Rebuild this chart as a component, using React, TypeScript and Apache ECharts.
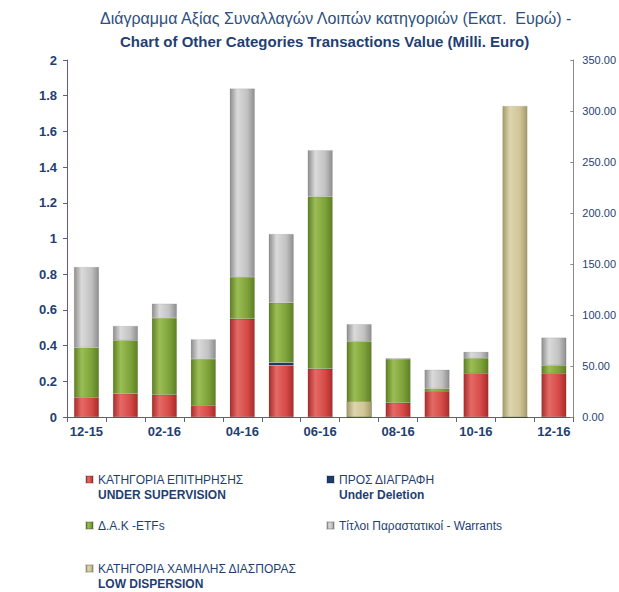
import React, { useEffect, useRef } from "react";
import * as echarts from "echarts";

const categories = ["12-15", "01-16", "02-16", "03-16", "04-16", "05-16", "06-16", "07-16", "08-16", "09-16", "10-16", "11-16", "12-16"];
const underSupervision = [0.11, 0.13, 0.125, 0.065, 0.55, 0.29, 0.27, 0, 0.08, 0.145, 0.245, 0, 0.245];
const underDeletion = [0, 0, 0, 0, 0, 0.015, 0, 0, 0, 0, 0, 0, 0];
const etfs = [0.28, 0.3, 0.43, 0.26, 0.235, 0.335, 0.965, 0.425, 0.245, 0.015, 0.085, 0, 0.045];
const warrants = [0.45, 0.08, 0.08, 0.11, 1.055, 0.385, 0.26, 0.095, 0.005, 0.105, 0.035, 0, 0.155];
const lowDispersion = [0, 0, 0, 0, 0, 0, 0, 15.5, 0, 0, 0, 305, 0];

const leftTicks = { min: 0, max: 2, interval: 0.2 };
const rightTicks = { min: 0, max: 350, interval: 50 };

const NAMES = {
  sup: "ΚΑΤΗΓΟΡΙΑ ΕΠΙΤΗΡΗΣΗΣ\nUNDER SUPERVISION",
  del: "ΠΡΟΣ ΔΙΑΓΡΑΦΗ\nUnder Deletion",
  etf: "Δ.Α.Κ -ETFs",
  war: "Τίτλοι Παραστατικοί - Warrants",
  low: "ΚΑΤΗΓΟΡΙΑ ΧΑΜΗΛΗΣ ΔΙΑΣΠΟΡΑΣ\nLOW DISPERSION",
};

const FONT = "'Liberation Sans Narrow', 'Arial Narrow', 'Liberation Sans', sans-serif";
const NAVY = "#1f3f73";

function grad(edge: string, mid: string, hi: string) {
  return new echarts.graphic.LinearGradient(0, 0, 1, 0, [
    { offset: 0, color: edge },
    { offset: 0.3, color: hi },
    { offset: 0.7, color: mid },
    { offset: 1, color: edge },
  ]);
}

export default function App() {
  const ref = useRef<HTMLDivElement>(null);
  useEffect(() => {
    if (!ref.current) return;
    const chart = echarts.init(ref.current, null, { renderer: "svg" });
    const bar = (name: string, data: number[], color: any, legendColor: string, axis = 0, stack: string | undefined = "a") => ({
      name,
      type: "bar",
      stack,
      yAxisIndex: axis,
      data,
      barWidth: 25,
      barGap: "-100%",
      itemStyle: { color, borderColor: "rgba(0,0,0,0.15)", borderWidth: 0.5 },
      color: legendColor,
    });
    const legendBase = {
      orient: "vertical",
      padding: 0,
      itemWidth: 7,
      itemHeight: 7,
      itemGap: 0,
      icon: "rect",
      selectedMode: false,
      textStyle: { fontFamily: FONT, fontSize: 12, color: NAVY, lineHeight: 15 },
    };
    const twoLine = {
      ...legendBase,
      formatter: (n: string) => {
        const p = n.split("\n");
        return `{a|${p[0]}}\n{b|${p[1]}}`;
      },
      textStyle: {
        ...legendBase.textStyle,
        padding: [15, 0, 0, 0],
        rich: {
          a: { fontFamily: FONT, fontSize: 12, color: NAVY, lineHeight: 15 },
          b: { fontFamily: FONT, fontSize: 12, color: NAVY, lineHeight: 15, fontWeight: "bold" },
        },
      },
    };
    chart.setOption({
      animation: false,
      backgroundColor: "#ffffff",
      title: [
        { text: "Διάγραμμα Αξίας Συναλλαγών Λοιπών κατηγοριών (Εκατ.  Ευρώ) -", left: 100, top: 10, padding: 0, textStyle: { fontFamily: FONT, fontSize: 16, fontWeight: "normal", color: "#2d4f80" } },
        { text: "Chart of Other Categories Transactions Value (Milli. Euro)", left: 120, top: 34, padding: 0, textStyle: { fontFamily: FONT, fontSize: 15, fontWeight: "bold", color: NAVY } },
      ],
      legend: [
        { ...twoLine, data: [NAMES.sup], left: 85, top: 457 },
        { ...twoLine, data: [NAMES.del], left: 326, top: 457 },
        { ...legendBase, data: [NAMES.etf], left: 85, top: 518 },
        { ...legendBase, data: [NAMES.war], left: 326, top: 518 },
        { ...twoLine, data: [NAMES.low], left: 85, top: 546 },
      ],
      grid: { left: 67, right: 41, top: 60, bottom: 175, containLabel: false },
      xAxis: {
        type: "category",
        data: categories,
        axisLine: { lineStyle: { color: "#5d5d94", width: 1 } },
        axisTick: { show: true, interval: 0, length: 5, lineStyle: { color: "#5d5d94" } },
        axisLabel: { interval: 1, fontFamily: FONT, fontSize: 13, fontWeight: "bold", color: NAVY, margin: 8 },
      },
      yAxis: [
        {
          type: "value",
          ...leftTicks,
          splitLine: { show: false },
          axisLine: { show: true, lineStyle: { color: "#5d5d94" } },
          axisTick: { show: true, length: 4, lineStyle: { color: "#5d5d94" } },
          axisLabel: { fontFamily: FONT, fontSize: 13, fontWeight: "bold", color: NAVY, margin: 10 },
        },
        {
          type: "value",
          position: "right",
          ...rightTicks,
          splitLine: { show: false },
          axisLine: { show: true, lineStyle: { color: "#8a8a8a" } },
          axisTick: { show: true, inside: true, length: 3, lineStyle: { color: "#8a8a8a" } },
          axisLabel: { fontFamily: FONT, fontSize: 11, color: NAVY, margin: 9, formatter: (v: number) => v.toFixed(2) },
        },
      ],
      series: [
        bar(NAMES.sup, underSupervision, grad("#a82c2a", "#d64a47", "#e46a66"), "#c0393a"),
        bar(NAMES.del, underDeletion, "#1f3c6e", "#1f3864"),
        bar(NAMES.etf, etfs, grad("#5e7f25", "#7ea33a", "#9bbd55"), "#7a9e3a"),
        bar(NAMES.war, warrants, grad("#8e8e8e", "#c2c2c2", "#dadada"), "#b0b0b0"),
        bar(NAMES.low, lowDispersion, grad("#a49a68", "#cfc598", "#ddd5ae"), "#c4b98a", 1, "b"),
      ],
    });
    return () => chart.dispose();
  }, []);
  return <div ref={ref} style={{ width: 619, height: 592, position: "absolute", left: 0, top: 0 }} />;
}
